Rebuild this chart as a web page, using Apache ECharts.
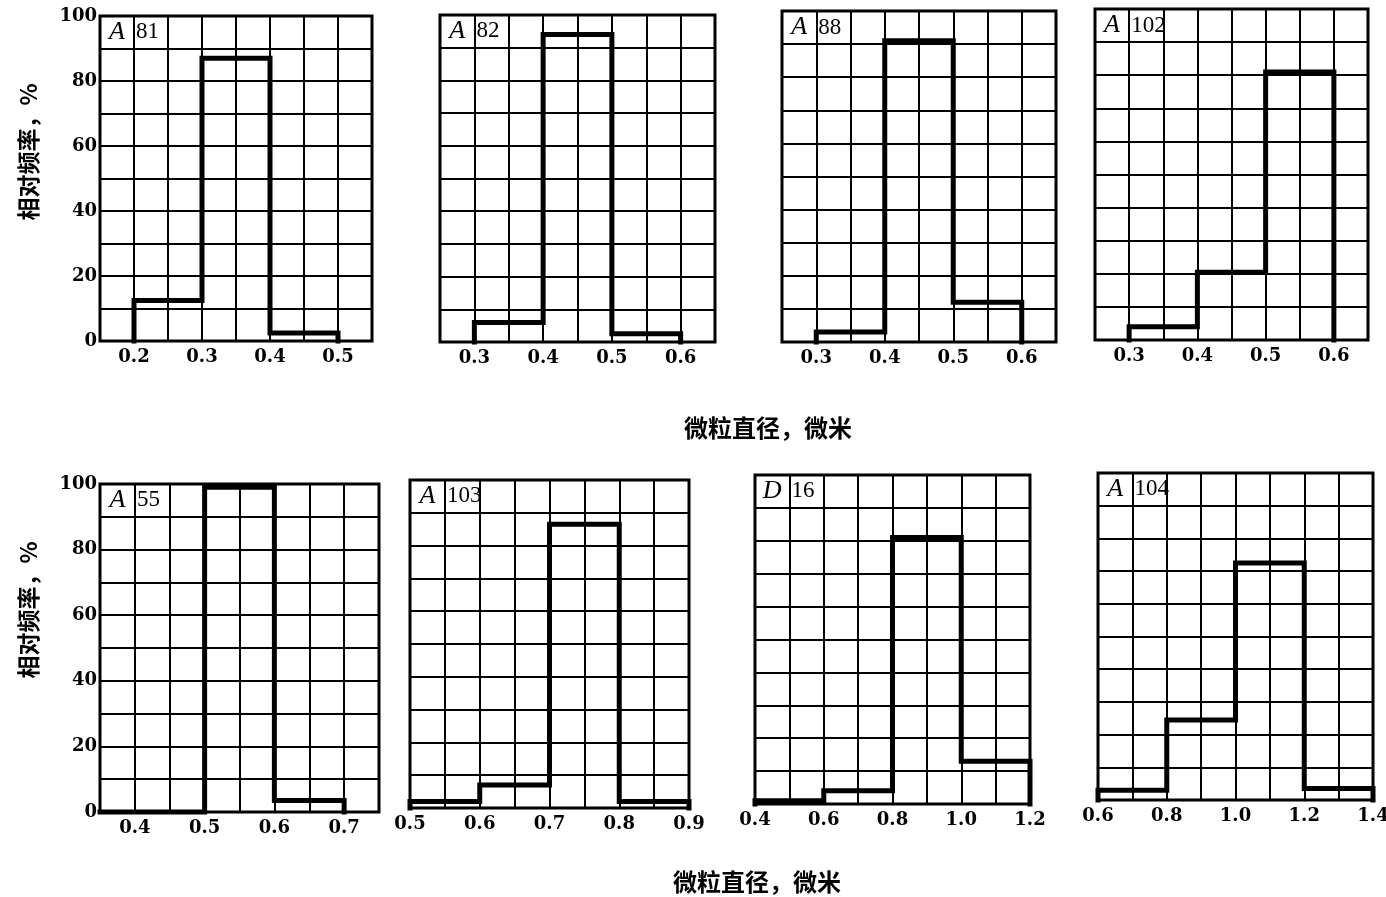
<!DOCTYPE html>
<html><head><meta charset="utf-8">
<script src="https://cdn.jsdelivr.net/npm/echarts@6/dist/echarts.min.js"></script>
<style>html,body{margin:0;padding:0;background:#fff}#c{width:1386px;height:897px}</style>
</head><body><div id="c"></div>
<script>
// ---- data ----
const panelLetters = ['A', 'A', 'A', 'A', 'A', 'A', 'D', 'A'];
const panelNumbers = ['81', '82', '88', '102', '55', '103', '16', '104'];

const edges_A81 = [0.2, 0.3, 0.4, 0.5];
const freq_A81 = [12.5, 87, 2.5];
const edges_A82 = [0.3, 0.4, 0.5, 0.6];
const freq_A82 = [6, 94, 2.5];
const edges_A88 = [0.3, 0.4, 0.5, 0.6];
const freq_A88 = [3, 91, 12];
const edges_A102 = [0.3, 0.4, 0.5, 0.6];
const freq_A102 = [4, 20.5, 81];
const edges_A55 = [0.35, 0.5, 0.6, 0.7];
const freq_A55 = [0, 99, 3.5];
const edges_A103 = [0.5, 0.6, 0.7, 0.8, 0.9];
const freq_A103 = [2, 7, 86.5, 2];
const edges_D16 = [0.4, 0.6, 0.8, 1.0, 1.2];
const freq_D16 = [1, 4, 81, 13];
const edges_A104 = [0.6, 0.8, 1.0, 1.2, 1.4];
const freq_A104 = [3, 24.5, 72.5, 3.5];

const xMins = [0.15, 0.25, 0.25, 0.25, 0.35, 0.5, 0.4, 0.6];
const xMaxs = [0.55, 0.65, 0.65, 0.65, 0.75, 0.9, 1.2, 1.4];
const gridSteps = [0.05, 0.05, 0.05, 0.05, 0.05, 0.05, 0.1, 0.1];
const labelSteps = [0.1, 0.1, 0.1, 0.1, 0.1, 0.1, 0.2, 0.2];
const yTickLabels = [0, 20, 40, 60, 80, 100];
const xTitle = '微粒直径，微米';
const yTitle = '相对频率，%';

const allEdges = [edges_A81, edges_A82, edges_A88, edges_A102, edges_A55, edges_A103, edges_D16, edges_A104];
const allFreq = [freq_A81, freq_A82, freq_A88, freq_A102, freq_A55, freq_A103, freq_D16, freq_A104];

// ---- layout ----
const boxes = [
  [100, 16, 272, 325], [440, 15, 275, 327], [782, 11, 274, 331], [1095, 9, 273, 331],
  [100, 484, 279, 328], [410, 480, 279, 328], [755, 475, 275, 329], [1098, 473, 275, 327]
];

function steps(edges, vals) {
  const pts = [[edges[0], 0]];
  vals.forEach((v, i) => { pts.push([edges[i], v]); pts.push([edges[i + 1], v]); });
  pts.push([edges[edges.length - 1], 0]);
  return pts;
}

const chart = echarts.init(document.getElementById('c'), null, {renderer: 'canvas'});
const grids = [], xAxes = [], yAxes = [], series = [];
boxes.forEach((b, i) => {
  grids.push({left: b[0], top: b[1], width: b[2], height: b[3], show: true,
    borderColor: '#000', borderWidth: 3, backgroundColor: '#fff', containLabel: false, outerBoundsMode: 'none'});
  const ls = labelSteps[i];
  xAxes.push({type: 'value', gridIndex: i, min: xMins[i], max: xMaxs[i], interval: gridSteps[i],
    axisLine: {show: false}, axisTick: {show: false},
    splitLine: {show: true, lineStyle: {color: '#000', width: 2}},
    axisLabel: {show: true, margin: 7, showMinLabel: true, showMaxLabel: true, hideOverlap: false,
      color: '#000', fontFamily: 'DejaVu Serif', fontWeight: 'bold', fontSize: 18,
      formatter: v => { const q = v / ls; return Math.abs(q - Math.round(q)) < 1e-6 ? v.toFixed(1) : ''; }}
  });
  const first = (i === 0 || i === 4);
  yAxes.push({type: 'value', gridIndex: i, min: 0, max: 100, interval: 10,
    axisLine: {show: false}, axisTick: {show: false},
    splitLine: {show: true, lineStyle: {color: '#000', width: 2}},
    axisLabel: {show: first, margin: 3, showMinLabel: true, showMaxLabel: true, hideOverlap: false,
      color: '#000', fontFamily: 'DejaVu Serif', fontWeight: 'bold', fontSize: 18,
      formatter: v => yTickLabels.indexOf(Math.round(v)) >= 0 && Math.abs(v - Math.round(v)) < 1e-6 ? String(Math.round(v)) : ''}
  });
  series.push({type: 'line', xAxisIndex: i, yAxisIndex: i, data: steps(allEdges[i], allFreq[i]),
    symbol: 'none', silent: true, clip: false, z: 5,
    lineStyle: {color: '#000', width: 5, cap: 'square', join: 'miter'}});
});

chart.setOption({animation: false, backgroundColor: '#fff', grid: grids, xAxis: xAxes, yAxis: yAxes, series: series});

const graphic = [];
boxes.forEach((b, i) => {
  const pA = chart.convertToPixel({gridIndex: i}, [xMins[i] + gridSteps[i] / 2, 95]);
  const pN = chart.convertToPixel({gridIndex: i}, [xMins[i] + gridSteps[i], 95]);
  graphic.push({type: 'text', x: pA[0], y: pA[1], z: 10,
    style: {text: panelLetters[i], fill: '#000', font: 'italic 26px "Liberation Serif"', align: 'center', verticalAlign: 'middle'}});
  graphic.push({type: 'text', x: pN[0] + 2, y: pN[1], z: 10,
    style: {text: panelNumbers[i], fill: '#000', font: '23px "Liberation Serif"', align: 'left', verticalAlign: 'middle'}});
});
// axis titles
graphic.push({type: 'text', x: 768, y: 428, style: {text: xTitle, fill: '#000', font: 'bold 24px "Noto Sans CJK SC"', align: 'center', verticalAlign: 'middle'}});
graphic.push({type: 'text', x: 757, y: 882, style: {text: xTitle, fill: '#000', font: 'bold 24px "Noto Sans CJK SC"', align: 'center', verticalAlign: 'middle'}});
graphic.push({type: 'text', x: 28, y: 152, rotation: Math.PI / 2, style: {text: yTitle, fill: '#000', font: 'bold 23px "Noto Sans CJK SC"', align: 'center', verticalAlign: 'middle'}});
graphic.push({type: 'text', x: 28, y: 610, rotation: Math.PI / 2, style: {text: yTitle, fill: '#000', font: 'bold 23px "Noto Sans CJK SC"', align: 'center', verticalAlign: 'middle'}});
chart.setOption({graphic: graphic});
</script></body></html>
